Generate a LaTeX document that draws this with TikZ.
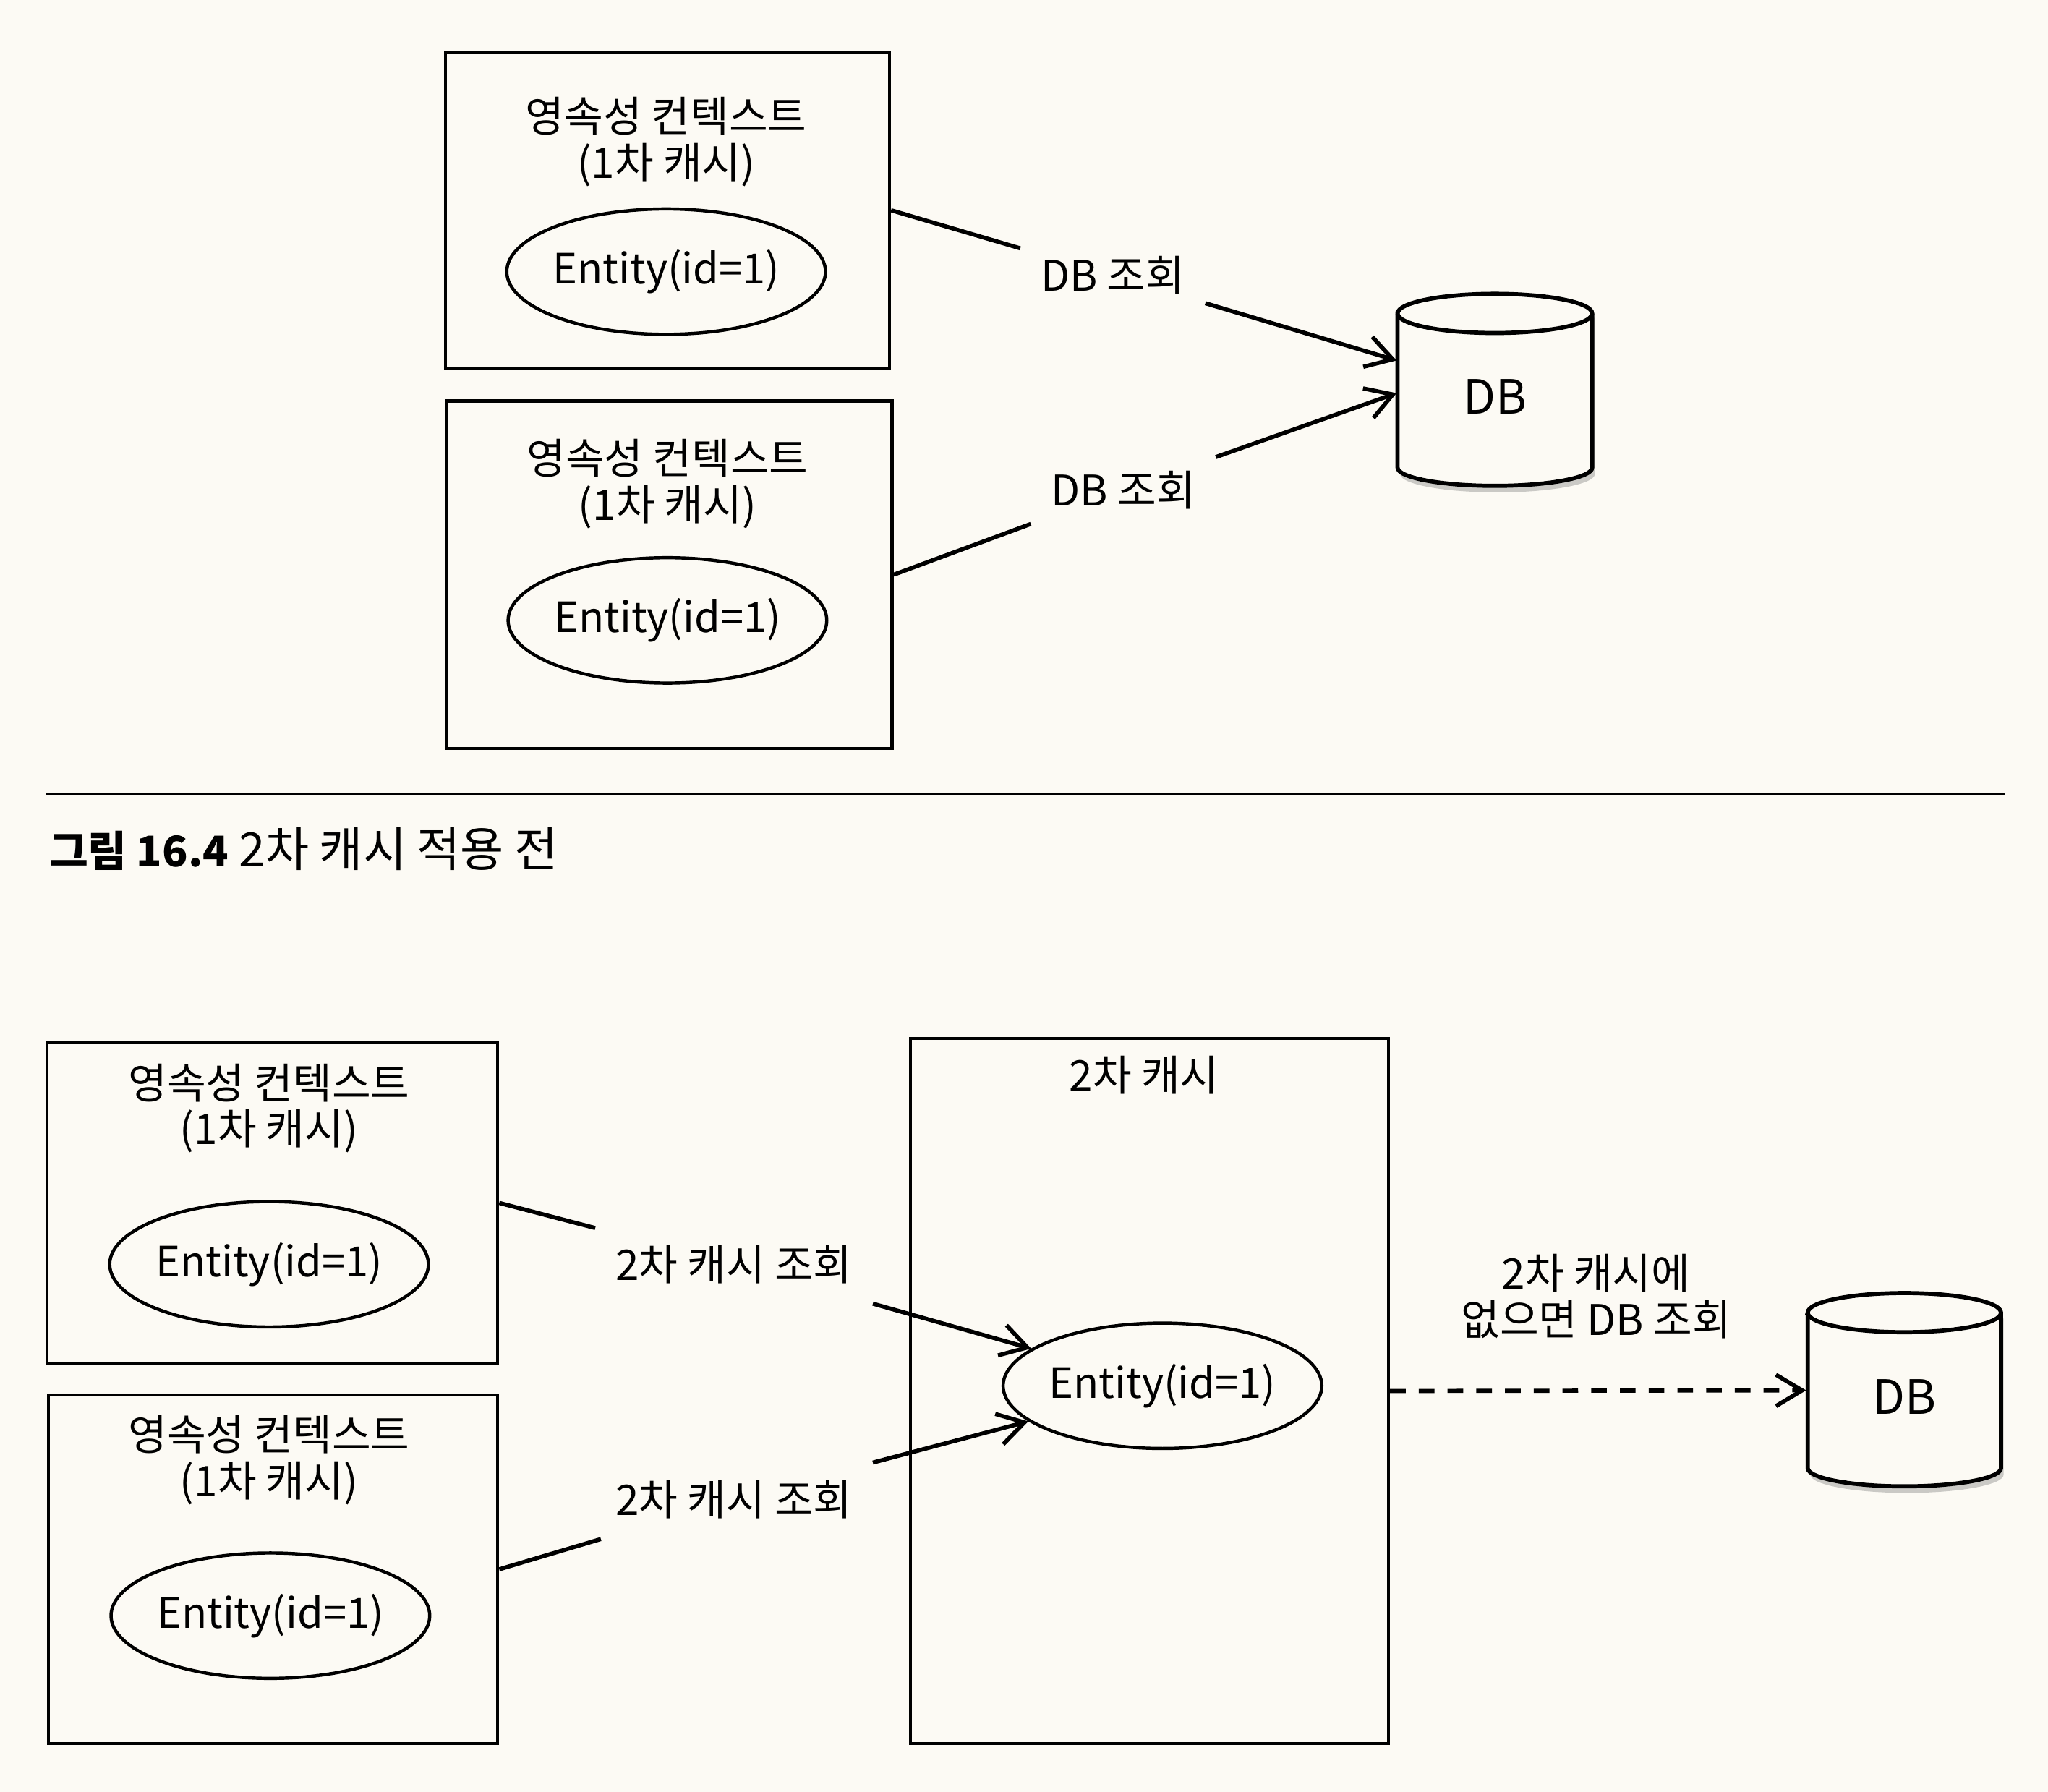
\documentclass[tikz,border=0pt]{standalone}
\usepackage{fontspec}
\setmainfont{Noto Sans CJK KR}
\usetikzlibrary{positioning, shapes.geometric, arrows.meta, shadows}
\definecolor{paper}{RGB}{252,250,244}

\begin{document}
\begin{tikzpicture}[>={Straight Barb[length=2mm,width=2.4mm]},
  ctxbox/.style={draw, line width=0.7pt, inner sep=0pt},
  entity/.style={draw, ellipse, line width=0.7pt, minimum width=2.44cm, minimum height=0.96cm, inner sep=0pt, font=\fontsize{9.1}{11}\selectfont},
  title/.style={align=center, inner sep=0pt, font=\fontsize{9.2}{10}\selectfont},
  query/.style={inner xsep=0.15cm, inner ysep=0.15cm, font=\fontsize{9.2}{10}\selectfont},
  conn/.style={line width=0.9pt},
  dbbody/.style={minimum width=1.49cm, minimum height=1.18cm, inner sep=0pt, text height=0.36cm, text depth=0cm, font=\fontsize{10.3}{12}\selectfont},
  cylshadow/.style={drop shadow={shadow xshift=0.02cm, shadow yshift=-0.05cm, opacity=0.4}}]

% Paper and bounding box
\fill[paper] (0,0) rectangle (15.68,13.72);
\useasboundingbox (0,0) rectangle (15.68,13.72);

% Before the second-level cache
\node[ctxbox, minimum width=3.40cm, minimum height=2.42cm] (ctxA) at (5.11,12.11) {};
\node[title] (ctxAtitle) at (5.10,12.635) {영속성 컨텍스트\\(1차 캐시)};
\node[entity] (entA) at (5.10,11.64) {\makebox[0pt]{Entity(id=1)}};

\node[ctxbox, minimum width=3.41cm, minimum height=2.66cm] (ctxB) at (5.125,9.32) {};
\node[title] (ctxBtitle) at (5.11,10.015) {영속성 컨텍스트\\(1차 캐시)};
\node[entity] (entB) at (5.11,8.97) {\makebox[0pt]{Entity(id=1)}};

% DB cylinder
\draw[line width=0.9pt, fill=paper, cylshadow] (10.70,11.32) -- (10.70,10.14)
  arc[start angle=180, end angle=360, x radius=0.745cm, y radius=0.14cm] -- (12.19,11.32)
  arc[start angle=0, end angle=180, x radius=0.745cm, y radius=0.15cm] -- cycle;
\draw[line width=0.9pt] (10.70,11.32) arc[start angle=180, end angle=360, x radius=0.745cm, y radius=0.15cm];
\node[dbbody] (db) at (11.445,10.73) {DB};

% Queries to the DB
\node[query] (dbqA) at (8.52,11.61) {DB 조회};
\node[query] (dbqB) at (8.60,9.97) {DB 조회};
\draw[conn] (ctxA.east) -- (dbqA);
\draw[conn, ->] (dbqA) -- ([yshift=0.23cm]db.west);
\draw[conn] (ctxB.east) -- (dbqB);
\draw[conn, ->] (dbqB) -- ([yshift=-0.02cm]db.west);

% Rule and caption
\draw[line width=0.5pt] (0.35,7.64) -- (15.35,7.64);
\node[anchor=west, inner sep=0pt, font=\fontsize{10.3}{11}\selectfont] (caption) at (0.37,7.22) {{\fontsize{9.2}{11}\selectfont\textbf{그림 16.4}} 2차 캐시 적용 전};

% After: contexts share the second-level cache
\node[ctxbox, minimum width=3.45cm, minimum height=2.46cm] (ctxC) at (2.085,4.51) {};
\node[title] (ctxCtitle) at (2.06,5.235) {영속성 컨텍스트\\(1차 캐시)};
\node[entity] (entC) at (2.06,4.04) {\makebox[0pt]{Entity(id=1)}};

\node[ctxbox, minimum width=3.44cm, minimum height=2.67cm] (ctxD) at (2.09,1.705) {};
\node[title] (ctxDtitle) at (2.06,2.54) {영속성 컨텍스트\\(1차 캐시)};
\node[entity] (entD) at (2.07,1.35) {\makebox[0pt]{Entity(id=1)}};

\node[ctxbox, minimum width=3.66cm, minimum height=5.40cm] (l2) at (8.80,3.07) {};
\node[title] (l2title) at (8.76,5.49) {2차 캐시};
\node[entity] (entL2) at (8.90,3.11) {\makebox[0pt]{Entity(id=1)}};

% Second DB cylinder
\draw[line width=0.9pt, fill=paper, cylshadow] (13.84,3.67) -- (13.84,2.48)
  arc[start angle=180, end angle=360, x radius=0.74cm, y radius=0.14cm] -- (15.32,3.67)
  arc[start angle=0, end angle=180, x radius=0.74cm, y radius=0.15cm] -- cycle;
\draw[line width=0.9pt] (13.84,3.67) arc[start angle=180, end angle=360, x radius=0.74cm, y radius=0.15cm];
\node[dbbody] (db2) at (14.58,3.075) {DB};

% Cache lookups
\node[query] (cqC) at (5.62,4.04) {2차 캐시 조회};
\node[query] (cqD) at (5.62,2.24) {2차 캐시 조회};
\draw[conn] (ctxC.east) -- (cqC);
\draw[conn, ->] (cqC) -- (entL2);
\draw[conn] (ctxD.east) -- (cqD);
\draw[conn, ->] (cqD) -- (entL2);

% Miss goes to the DB
\node[title] (cmiss) at (12.22,3.795) {2차 캐시에\\없으면 DB 조회};
\draw[conn, dash pattern=on 0.12cm off 0.1cm, ->] (l2.east) -- (db2.west);

\end{tikzpicture}
\end{document}
